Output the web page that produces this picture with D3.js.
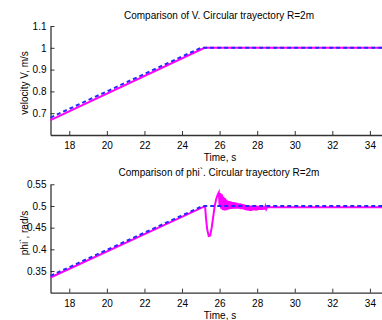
<!DOCTYPE html>
<html>
<head>
<meta charset="utf-8">
<script src="https://cdn.jsdelivr.net/npm/d3@7"></script>
<style>
  body { margin: 0; background: #fff; }
  svg { display: block; font-family: "Liberation Sans", Arial, sans-serif; }
  .axis path, .axis line { stroke: #333; }
  .axis text { fill: #000; font-size: 10px; }
</style>
</head>
<body>
<svg id="chart" width="382" height="320"></svg>
<script>
// tick values
const timeTicks = [18, 20, 22, 24, 26, 28, 30, 32, 34]
const velTicks = [0.7, 0.8, 0.9, 1, 1.1]
const phiTicks = [0.35, 0.4, 0.45, 0.5, 0.55]

// velocity V: reference (dashed) vs measured
const velRef = [[17, 0.68], [25.0, 1.0], [35, 1.0]]
const velMeas = [[17, 0.668], [25.2, 1.0], [35, 1.0]]

// phi`: reference (dashed) vs measured
const phiRef = [[17, 0.339], [25.1, 0.5], [35, 0.5]]
const phiMeas = [
  [17, 0.335], [25.2, 0.499], [25.23, 0.497], [25.28, 0.47], [25.34, 0.446],
  [25.42, 0.431], [25.5, 0.432], [25.58, 0.45], [25.66, 0.475], [25.74, 0.5],
  [25.82, 0.516], [25.9, 0.526], [25.96, 0.531], [26.0, 0.5], [26.04, 0.53],
  [26.08, 0.494], [26.12, 0.527], [26.16, 0.491], [26.2, 0.522], [26.24, 0.49],
  [26.28, 0.518], [26.32, 0.49], [26.36, 0.515], [26.4, 0.491], [26.44, 0.512],
  [26.48, 0.492], [26.52, 0.511], [26.56, 0.493], [26.6, 0.51], [26.64, 0.493],
  [26.68, 0.509], [26.72, 0.494], [26.76, 0.509], [26.8, 0.494], [26.84, 0.508],
  [26.88, 0.494], [26.92, 0.507], [26.96, 0.494], [27.0, 0.506], [27.04, 0.494],
  [27.08, 0.506], [27.12, 0.493], [27.16, 0.505], [27.2, 0.493], [27.24, 0.504],
  [27.28, 0.492], [27.32, 0.503], [27.36, 0.491], [27.4, 0.502], [27.44, 0.49],
  [27.48, 0.502], [27.52, 0.49], [27.56, 0.501], [27.6, 0.489], [27.64, 0.501],
  [27.68, 0.489], [27.72, 0.501], [27.76, 0.49], [27.8, 0.501], [27.84, 0.49],
  [27.88, 0.5], [27.92, 0.49], [27.96, 0.5], [28.0, 0.49], [28.04, 0.5],
  [28.08, 0.491], [28.12, 0.5], [28.16, 0.491], [28.2, 0.5], [28.24, 0.491],
  [28.28, 0.499], [28.32, 0.492], [28.36, 0.499], [28.4, 0.492], [28.44, 0.499],
  [28.48, 0.493], [28.52, 0.497], [35, 0.497]
]

const svg = d3.select('#chart')

const x = d3.scaleLinear().domain([17, 35]).range([50.5, 388.7])

function drawPanel (opts) {
  const y = d3.scaleLinear().domain(opts.yDomain).range(opts.yRange)
  const bottom = opts.yRange[0]

  svg.append('g')
      .attr('class', 'axis')
      .attr('transform', `translate(0, ${bottom})`)
      .call(d3.axisBottom(x).tickValues(timeTicks).tickFormat(d3.format('d'))
        .tickSizeInner(-4).tickSizeOuter(0).tickPadding(7))

  svg.append('g')
      .attr('class', 'axis')
      .attr('transform', `translate(${x.range()[0]}, 0)`)
      .call(d3.axisLeft(y).tickValues(opts.ticks).tickFormat(d => String(d))
        .tickSizeInner(-4).tickSizeOuter(0).tickPadding(4))

  svg.selectAll('.axis .domain').attr('stroke-width', 1.3)

  const line = d3.line()
                 .x(d => x(d[0]))
                 .y(d => y(d[1]))

  svg.append('path')
      .attr('d', line(opts.meas))
      .attr('fill', 'none')
      .attr('stroke', '#ff00ff')
      .attr('stroke-width', 2)

  svg.append('path')
      .attr('d', line(opts.ref))
      .attr('fill', 'none')
      .attr('stroke', '#2828ff')
      .attr('stroke-width', 2)
      .attr('stroke-dasharray', '4,3')

  svg.append('text')
      .attr('x', 219)
      .attr('y', opts.titleY)
      .attr('text-anchor', 'middle')
      .attr('font-size', 10)
      .attr('fill', '#000')
      .text(opts.title)

  svg.append('text')
      .attr('x', 220)
      .attr('y', bottom + 26)
      .attr('text-anchor', 'middle')
      .attr('font-size', 10)
      .attr('fill', '#000')
      .text('Time, s')

  svg.append('text')
      .attr('transform', `translate(24, ${opts.yLabelY}) rotate(-90)`)
      .attr('text-anchor', 'middle')
      .attr('dy', '0.35em')
      .attr('font-size', 10)
      .attr('fill', '#000')
      .text(opts.yLabel)
}

drawPanel({
  yDomain: [0.6, 1.1], yRange: [135, 26], ticks: velTicks,
  meas: velMeas, ref: velRef,
  title: 'Comparison of V. Circular trayectory R=2m', titleY: 18.5,
  yLabel: 'velocity V, m/s', yLabelY: 83
})

drawPanel({
  yDomain: [0.3, 0.55], yRange: [292.7, 184.3], ticks: phiTicks,
  meas: phiMeas, ref: phiRef,
  title: 'Comparison of phi`. Circular trayectory R=2m', titleY: 176,
  yLabel: 'phi`, rad/s', yLabelY: 233
})
</script>
</body>
</html>
